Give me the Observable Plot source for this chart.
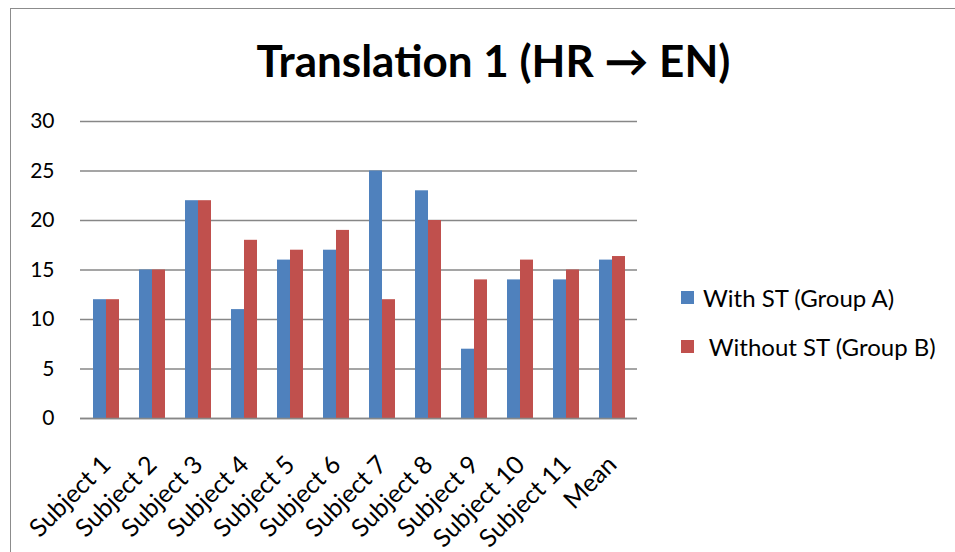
<!DOCTYPE html>
<html>
<head>
<meta charset="utf-8">
<script src="https://cdn.jsdelivr.net/npm/d3@7"></script>
<script src="https://cdn.jsdelivr.net/npm/@observablehq/plot@0.6"></script>
<style>
  html, body { margin: 0; padding: 0; background: #fff; }
  #wrap { position: relative; width: 955px; height: 552px; overflow: hidden; font-family: Lato, "Open Sans", sans-serif; }
  #border { position: absolute; left: 10px; top: 8px; width: 960px; height: 560px; border: 1.5px solid #8c8c8c; box-sizing: border-box; }
  #title { position: absolute; left: 16px; width: 955px; top: 38px; text-align: center; font-size: 44px; line-height: 44px; font-weight: bold; color: #000; }
  #chart { position: absolute; left: 0; top: 0; }
  .sw { position: absolute; left: 681px; width: 13px; height: 13px; }
  .lt { position: absolute; left: 703px; font-size: 24px; line-height: 24px; color: #000; white-space: pre; }
</style>
</head>
<body>
<div id="wrap">
  <div id="border"></div>
  <div id="chart"></div>
  <div id="title">Translation 1 (HR → EN)</div>
  <div id="legend"></div>
</div>
<script>
const categories = ["Subject 1","Subject 2","Subject 3","Subject 4","Subject 5","Subject 6","Subject 7","Subject 8","Subject 9","Subject 10","Subject 11","Mean"];
const seriesNames = ["With ST (Group A)", " Without ST (Group B)"];
const groupA = [12, 15, 22, 11, 16, 17, 25, 23, 7, 14, 14, 16.0];
const groupB = [12, 15, 22, 18, 17, 19, 12, 20, 14, 16, 15, 16.36];
const colors = ["#4F81BD", "#C0504D"];
const yTicks = [0, 5, 10, 15, 20, 25, 30];

const rowsA = categories.map((c, i) => ({cat: c, value: groupA[i]}));
const rowsB = categories.map((c, i) => ({cat: c, value: groupB[i]}));

const W = 955, H = 552, mL = 80, mR = 318, mT = 121, mB = 134;
const padIn = 0.44, padOut = 0.22;
const step = (W - mL - mR) / (categories.length - padIn + 2 * padOut);
const half = step * (1 - padIn) / 2;

const chart = Plot.plot({
  width: W,
  height: H,
  marginTop: mT,
  marginBottom: mB,
  marginLeft: mL,
  marginRight: mR,
  style: {fontFamily: "Lato, 'Open Sans', sans-serif", fontSize: "21px", color: "#000", background: "transparent"},
  x: {domain: categories, paddingInner: padIn, paddingOuter: padOut, label: null},
  y: {domain: [0, 30], label: null},
  marks: [
    Plot.gridY(yTicks, {stroke: "#878787", strokeOpacity: 1, strokeWidth: 1.5}),
    Plot.barY(rowsA, {x: "cat", y: "value", fill: colors[0], insetRight: half}),
    Plot.barY(rowsB, {x: "cat", y: "value", fill: colors[1], insetLeft: half}),
    Plot.axisY({ticks: yTicks, tickSize: 0, tickPadding: 26, fontSize: 21}),
    Plot.axisX({tickSize: 0, tickRotate: -45, tickPadding: 42, fontSize: 25}),
    Plot.ruleY([0], {stroke: "#878787", strokeWidth: 1.5}),
    Plot.ruleX([0], {frameAnchor: "left", stroke: "#878787", strokeWidth: 1.5})
  ]
});
document.getElementById("chart").appendChild(chart);

const legend = document.getElementById("legend");
const legTops = [291, 340];
seriesNames.forEach((name, i) => {
  const sw = document.createElement("div");
  sw.className = "sw";
  sw.style.top = legTops[i] + "px";
  sw.style.background = colors[i];
  legend.appendChild(sw);
  const t = document.createElement("div");
  t.className = "lt";
  t.style.top = (legTops[i] - 5) + "px";
  t.textContent = name;
  legend.appendChild(t);
});
</script>
</body>
</html>
